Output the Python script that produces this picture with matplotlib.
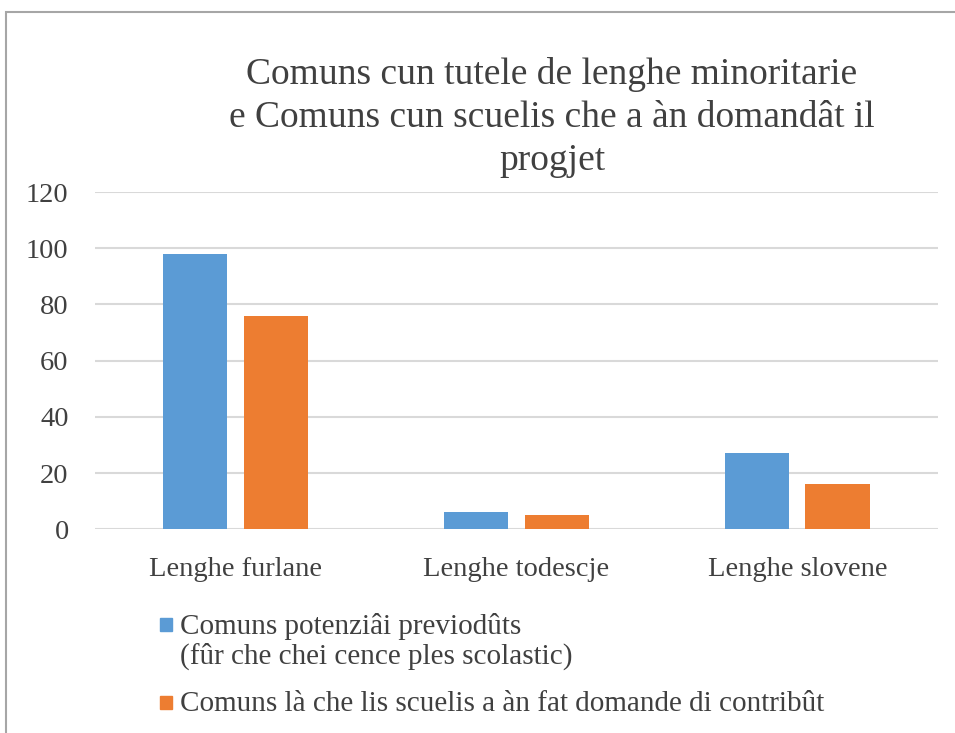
import numpy as np
import matplotlib.pyplot as plt
from matplotlib.patches import Rectangle

# dades
categoriis = ['Lenghe furlane', 'Lenghe todescje', 'Lenghe slovene']
potenziai = [98, 6, 27]
domande = [76, 5, 16]
etichetis_serie = ['Comuns potenziâi previodûts\n(fûr che chei cence ples scolastic)',
                   'Comuns là che lis scuelis a àn fat domande di contribût']
titul = 'Comuns cun tutele de lenghe minoritarie\ne Comuns cun scuelis che a àn domandât il\nprogjet'

blu = '#5B9BD5'
narançon = '#ED7D31'
grisc = '#404040'

plt.rcParams['font.family'] = ['Liberation Serif', 'DejaVu Serif']

fig = plt.figure(figsize=(9.55, 7.33), dpi=100)
ax = fig.add_axes([0.0995, 0.278, 0.8825, 0.46])

x = np.arange(len(categoriis))
larg = 0.228
ax.bar(x - 0.143, potenziai, larg, color=blu, zorder=3)
ax.bar(x + 0.143, domande, larg, color=narançon, zorder=3)

ax.set_xlim(-0.5, 2.5)
ax.set_ylim(0, 120)
ax.set_yticks(range(0, 121, 20))
ax.yaxis.grid(True, color='#D9D9D9', linewidth=1.5, zorder=0)
ax.set_axisbelow(True)
for s in ax.spines.values():
    s.set_visible(False)
ax.tick_params(axis='both', length=0, labelsize=20.5, colors=grisc)
ax.tick_params(axis='y', pad=19)
ax.tick_params(axis='x', pad=20)
ax.set_xticks(x)
ax.set_xticklabels(categoriis)

fig.text(0.578, 1 - 57 / 733, titul, ha='center', va='top', fontsize=27,
         color=grisc, linespacing=1.33)

# leiende fate a man
colôrs = [blu, narançon]
ylin = [624, 702]
for col, lab, yp in zip(colôrs, etichetis_serie, ylin):
    fy = 1 - yp / 733
    fig.patches.append(Rectangle((160 / 955, fy - 6.5 / 733), 12 / 955, 13 / 733,
                                 transform=fig.transFigure, color=col))
    fig.text(180 / 955, fy + 11 / 733, lab, ha='left', va='top', fontsize=21,
             color=grisc, linespacing=1.15)

# ôr dal grafic
fig.patches.append(Rectangle((6 / 955, -0.1), 1.2, 1 - 12 / 733 + 0.1,
                             transform=fig.transFigure, fill=False,
                             edgecolor='#A6A6A6', linewidth=1.5))

fig.savefig('out.png', dpi=100, facecolor='white')
